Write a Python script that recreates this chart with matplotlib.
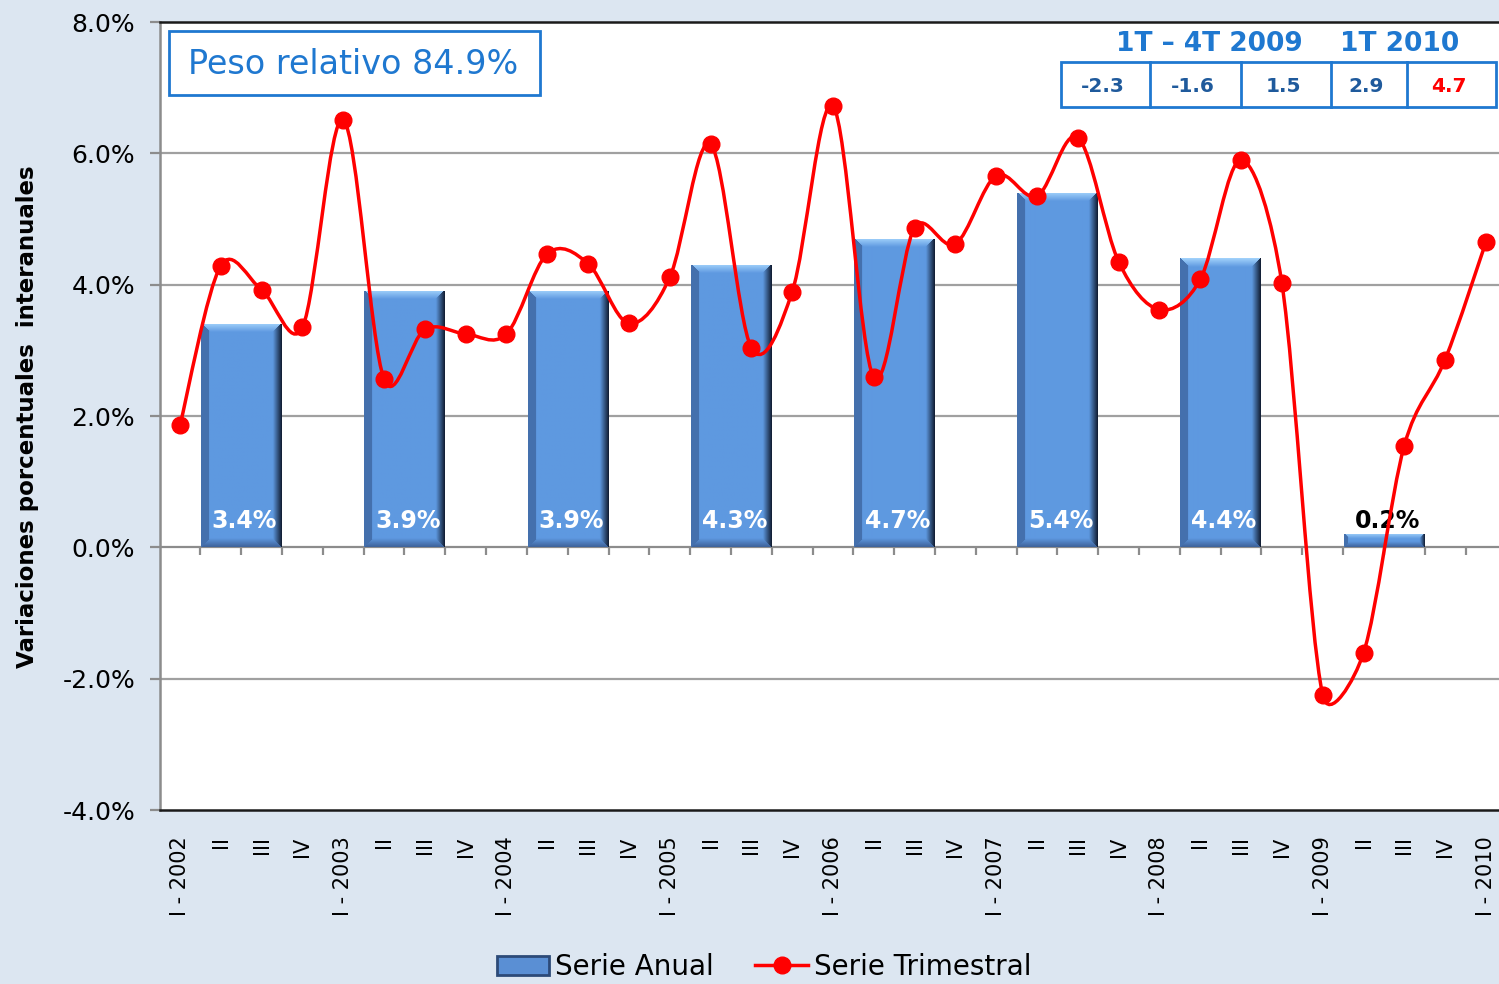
import numpy as np
import matplotlib
matplotlib.use('Agg')
import matplotlib.pyplot as plt
from matplotlib.patches import Rectangle, PathPatch
from matplotlib.lines import Line2D
from matplotlib.path import Path

# ---------------- data ----------------
quarter_labels = ['I - 2002', 'II', 'III', 'IV',
                  'I - 2003', 'II', 'III', 'IV',
                  'I - 2004', 'II', 'III', 'IV',
                  'I - 2005', 'II', 'III', 'IV',
                  'I - 2006', 'II', 'III', 'IV',
                  'I - 2007', 'II', 'III', 'IV',
                  'I - 2008', 'II', 'III', 'IV',
                  'I - 2009', 'II', 'III', 'IV',
                  'I - 2010']
trimestral = [1.86, 4.29, 3.92, 3.35,
              6.51, 2.56, 3.32, 3.25,
              3.25, 4.47, 4.32, 3.41,
              4.11, 6.14, 3.04, 3.89,
              6.72, 2.59, 4.87, 4.62,
              5.66, 5.35, 6.24, 4.35,
              3.62, 4.08, 5.90, 4.02,
              -2.25, -1.61, 1.55, 2.86,
              4.65]
years = [2002, 2003, 2004, 2005, 2006, 2007, 2008, 2009]
anual = [3.4, 3.9, 3.9, 4.3, 4.7, 5.4, 4.4, 0.2]
anual_labels = ['3.4%', '3.9%', '3.9%', '4.3%', '4.7%', '5.4%', '4.4%', '0.2%']
yticks = [-4, -2, 0, 2, 4, 6, 8]
ytick_labels = ['-4.0%', '-2.0%', '0.0%', '2.0%', '4.0%', '6.0%', '8.0%']
peso_text = 'Peso relativo 84.9%'
table_headers = ['1T \u2013 4T 2009', '1T 2010']
table_values = ['-2.3', '-1.6', '1.5', '2.9', '4.7']
table_colors = ['#1f5a9c', '#1f5a9c', '#1f5a9c', '#1f5a9c', '#ff0000']

# ---------------- style ----------------
W, H = 1499, 984
BG = '#dce6f1'
BLUE = '#1f78d0'
plt.rcParams['font.family'] = ['DejaVu Sans']

fig = plt.figure(figsize=(W / 100, H / 100), dpi=100, facecolor=BG)
ax = fig.add_axes([160 / W, 1 - 810 / H, (W - 160) / W, (810 - 22) / H])
ax.set_facecolor('white')
ax.set_xlim(-0.49, 32.32)
ax.set_ylim(-4, 8)

def px(x, y):
    return (x / W, 1 - y / H)

xq = np.arange(len(quarter_labels))

# grid lines
for v in yticks[1:-1]:
    ax.axhline(v, color='#a0a0a0' if v != 0 else '#8c8c8c', lw=1.6, zorder=1)

# tick marks at zero line, between categories
ax.vlines(np.arange(0.5, len(quarter_labels) - 1, 1.0), -0.12, 0,
          color='#8c8c8c', lw=1.6, zorder=1)

# ---------------- bars with bevel ----------------
bar_x = np.array([4 * (y - years[0]) + 1.5 for y in years])
bars = ax.bar(bar_x, anual, width=1.97, color='#5e99e0', zorder=2, linewidth=0)

def bevel_image(wpx, hpx, b=9):
    wpx = max(int(round(wpx)), 2)
    hpx = max(int(round(hpx)), 2)
    yy, xx = np.mgrid[0:hpx, 0:wpx] + 0.5
    d = np.stack([xx, wpx - xx, yy, hpx - yy])
    idx = d.argmin(0)
    dmin = d.min(0)
    base = np.array([0.37, 0.60, 0.88])
    cols = [np.array([0.27, 0.44, 0.68]),
            np.array([0.06, 0.10, 0.18]),
            np.array([0.64, 0.83, 0.99]),
            np.array([0.24, 0.38, 0.60])]
    img = np.tile(base, (hpx, wpx, 1))
    bb = min(b, hpx / 2.5)
    t = np.clip(dmin / bb, 0, 1)[..., None]
    for k, c in enumerate(cols):
        m = (idx == k) & (dmin < bb)
        blend = c * (1 - t) + base * t
        if k == 0:
            blend = c * np.ones_like(t) * (t < 0.85) + base * (t >= 0.85)
        img[m] = blend[m]
    return img

p0d = ax.transData.transform((0, 0))
p1d = ax.transData.transform((1, 1))
xscale = p1d[0] - p0d[0]
yscale = p1d[1] - p0d[1]
for rect in bars:
    x0 = rect.get_x(); w = rect.get_width(); h = rect.get_height()
    img = bevel_image(w * xscale, h * yscale)
    im = ax.imshow(img, extent=(x0, x0 + w, 0, h), aspect='auto',
                   origin='upper', zorder=2.1, interpolation='bilinear')
    im.set_clip_path(rect)

# bar labels
for xb, v, lab in zip(bar_x, anual, anual_labels):
    col = 'white' if v > 1 else 'black'
    ax.text(xb + 0.08, 0.40, lab, ha='center', va='center', fontsize=17,
            fontweight='bold', color=col, zorder=4)

# ---------------- smooth line (Excel-like bezier smoothing) ----------------
def smooth_path(xs, ys, sx, sy):
    P = np.column_stack([xs, ys]).astype(float)
    S = np.array([sx, sy])
    Pe = np.vstack([P[0], P, P[-1]])
    verts = [P[0]]
    codes = [Path.MOVETO]
    for i in range(len(P) - 1):
        p0, p1, p2, p3 = Pe[i], Pe[i + 1], Pe[i + 2], Pe[i + 3]
        d02 = np.hypot(*((p2 - p0) * S))
        d12 = np.hypot(*((p2 - p1) * S))
        d13 = np.hypot(*((p3 - p1) * S))
        f0 = 1 / 6.0
        f3 = 1 / 6.0
        if d02 / 6 >= d12 / 2 and d02 > 0:
            f0 = d12 / d02 / 2
        if d13 / 6 >= d12 / 2 and d13 > 0:
            f3 = d12 / d13 / 2
        c1 = p1 + (p2 - p0) * f0
        c2 = p2 - (p3 - p1) * f3
        verts += [c1, c2, p2]
        codes += [Path.CURVE4] * 3
    return Path(verts, codes)

ax.add_patch(PathPatch(smooth_path(xq, trimestral, xscale, yscale), facecolor='none',
                       edgecolor='#ff0000', lw=2.5, zorder=5, capstyle='round'))
ax.plot(xq, trimestral, linestyle='none', marker='o', markersize=12,
        color='#ff0000', zorder=6)

# ---------------- axes ----------------
ax.set_xlim(-0.49, 32.32)
ax.set_ylim(-4, 8)
ax.set_yticks(yticks)
ax.set_yticklabels(ytick_labels, fontsize=18)
ax.tick_params(axis='y', length=7, width=1.6, color='#8c8c8c', pad=11)
ax.set_xticks(xq)
ax.set_xticklabels(quarter_labels, rotation=90, fontsize=15)
ax.tick_params(axis='x', length=0, pad=19)
for s in ['top', 'bottom']:
    ax.spines[s].set_color('#1a1a1a')
    ax.spines[s].set_linewidth(1.8)
ax.spines['left'].set_color('#8c8c8c')
ax.spines['left'].set_linewidth(1.8)
ax.spines['right'].set_visible(False)

fig.text(28 / W, 1 - 417 / H, 'Variaciones porcentuales  interanuales',
         rotation=90, ha='center', va='center', fontsize=16.5, fontweight='bold')

# ---------------- Peso relativo box ----------------
x0, y0 = px(169, 95)
x1, y1 = px(540, 31)
fig.patches.append(Rectangle((x0, y0), x1 - x0, y1 - y0, transform=fig.transFigure,
                             facecolor='white', edgecolor=BLUE, lw=2, zorder=5))
fig.text(*px(353, 64), peso_text, ha='center', va='center', fontsize=24,
         color=BLUE, zorder=6)

# ---------------- table ----------------
tx0, ty0 = px(1061, 107)
tx1, ty1 = px(1496, 62)
fig.patches.append(Rectangle((tx0, ty0), tx1 - tx0, ty1 - ty0, transform=fig.transFigure,
                             facecolor='white', edgecolor=BLUE, lw=2, zorder=5))
edges = [1061, 1150, 1241, 1331, 1407, 1496]
for e in edges[1:-1]:
    fig.lines.append(Line2D([e / W, e / W], [ty0, ty1], transform=fig.transFigure,
                            color=BLUE, lw=2, zorder=6))
for i, (val, c) in enumerate(zip(table_values, table_colors)):
    cx = (edges[i] + edges[i + 1]) / 2 - 3
    fig.text(*px(cx, 86), val, ha='center', va='center', fontsize=14.5,
             fontweight='bold', color=c, zorder=7)
fig.text(*px(1209, 44), table_headers[0], ha='center', va='center', fontsize=19,
         fontweight='bold', color=BLUE, zorder=7)
fig.text(*px(1400, 44), table_headers[1], ha='center', va='center', fontsize=19,
         fontweight='bold', color=BLUE, zorder=7)

# ---------------- legend ----------------
h_bar = Rectangle((0, 0), 1, 1, facecolor='#5a8fd4', edgecolor='#2c4a78', lw=2)
h_line = Line2D([], [], color='#ff0000', lw=2.5, marker='o', markersize=12)
fig.legend([h_bar, h_line], ['Serie Anual', 'Serie Trimestral'], loc='center',
           bbox_to_anchor=px(764, 967), ncol=2, frameon=False, fontsize=20,
           handlelength=1.9, handletextpad=0.2, columnspacing=1.5)

fig.savefig('out.png', dpi=100, facecolor=BG)
